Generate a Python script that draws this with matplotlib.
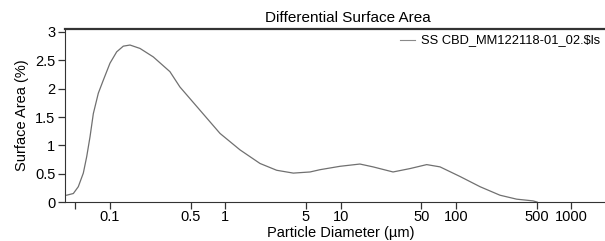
import matplotlib
matplotlib.use('Agg')
import matplotlib.pyplot as plt
from matplotlib.lines import Line2D

plt.rcParams['font.family'] = ['Liberation Sans', 'DejaVu Sans']

# particle diameter (um) and differential surface area (%)
diam = [0.0421, 0.0481, 0.0531, 0.0587, 0.0628, 0.0671, 0.0717, 0.0792, 0.0875, 0.100,
        0.1143, 0.1304, 0.1491, 0.182, 0.2375, 0.331, 0.404, 0.603, 0.900, 1.341,
        2.00, 2.79, 3.89, 5.43, 6.62, 9.88, 14.7, 19.1, 28.5, 40.0,
        55.8, 72.8, 108.6, 161.9, 241, 336.6, 466, 505]
area = [0.12, 0.15, 0.27, 0.51, 0.80, 1.15, 1.56, 1.92, 2.15, 2.45,
        2.65, 2.75, 2.77, 2.71, 2.56, 2.30, 2.03, 1.62, 1.21, 0.92,
        0.68, 0.56, 0.51, 0.53, 0.57, 0.63, 0.67, 0.62, 0.53, 0.59,
        0.66, 0.62, 0.45, 0.27, 0.12, 0.05, 0.02, 0.0]

xticks = [0.05, 0.1, 0.5, 1, 5, 10, 50, 100, 500, 1000]
xlabels = ['', '0.1', '0.5', '1', '5', '10', '50', '100', '500', '1000']
yticks = [0, 0.5, 1, 1.5, 2, 2.5, 3]
ylabels = ['0', '0.5', '1', '1.5', '2', '2.5', '3']

fig = plt.figure(figsize=(6.05, 2.41), dpi=100)
ax = fig.add_axes([0.1074, 0.1618, 0.8926, 0.7179])

ax.plot(diam, area, color='#707070', lw=0.9)

ax.set_xscale('log')
ax.set_xlim(0.0407, 1963)
ax.set_ylim(0, 3.053)
ax.set_xticks(xticks)
ax.set_xticklabels(xlabels)
ax.minorticks_off()
ax.set_yticks(yticks)
ax.set_yticklabels(ylabels)
ax.tick_params(direction='out', length=5, width=0.9, labelsize=10.5, color='#333333', pad=2)
ax.tick_params(axis='x', pad=1)

ax.spines['right'].set_visible(False)
ax.spines['top'].set_linewidth(1.6)
ax.spines['top'].set_color('#333333')
ax.spines['left'].set_color('#333333')
ax.spines['bottom'].set_color('#333333')

ax.set_xlabel('Particle Diameter (µm)', fontsize=10.5)
ax.xaxis.set_label_coords(0.51, -0.14)
ax.set_ylabel('Surface Area (%)', fontsize=10.5, labelpad=4)
fig.text(0.575, 0.925, 'Differential Surface Area', ha='center', va='center', fontsize=11)

# legend entry near the top right
fig.add_artist(Line2D([400/605, 415/605], [1-40/241, 1-40/241], color='#8a8a8a', lw=0.8))
fig.text(421/605, 1-40/241, 'SS CBD_MM122118-01_02.$ls', ha='left', va='center', fontsize=9.3)

fig.savefig('out.png', dpi=100)
